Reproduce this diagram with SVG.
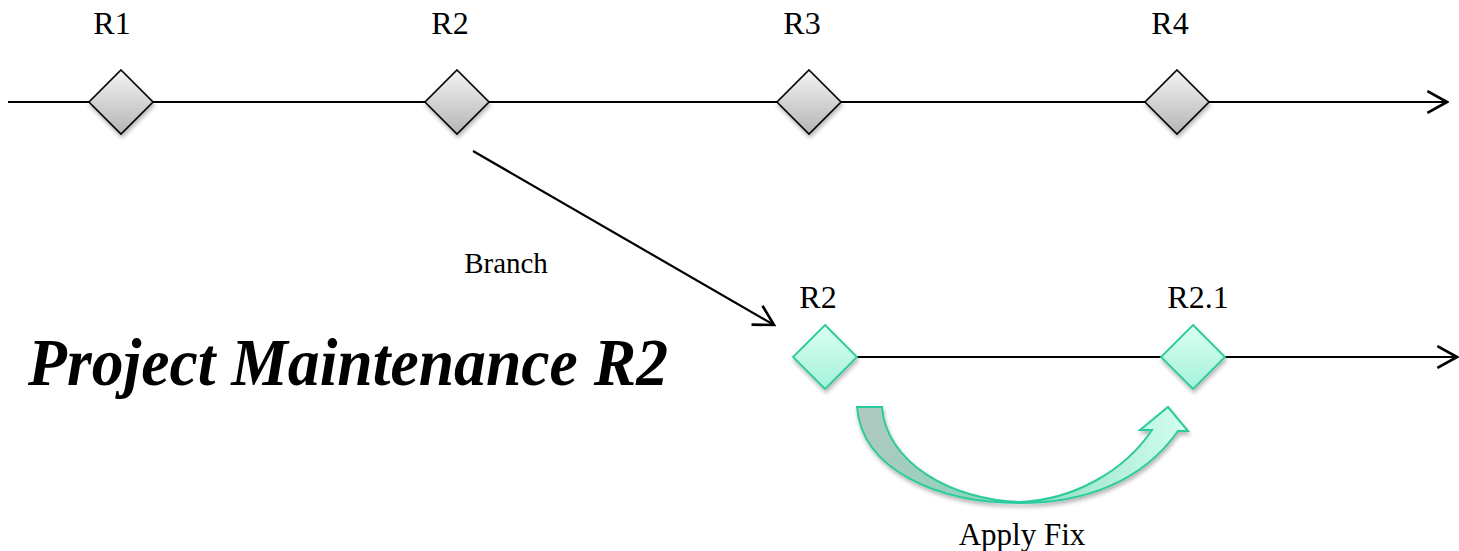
<svg xmlns="http://www.w3.org/2000/svg" width="1459" height="551" viewBox="0 0 1459 551">
<style>
.lbl{font-family:"Liberation Serif","Times New Roman",serif;font-size:32px;fill:#000;text-anchor:middle}
.line{stroke:#000;stroke-width:2.2;fill:none}
.gd{fill:url(#gGray);stroke:#000;stroke-width:1.6;filter:url(#sh)}
.td{fill:url(#gTeal);stroke:#2ccb9c;stroke-width:1.8;filter:url(#sh)}
</style>
<defs>
<linearGradient id="gGray" x1="0" y1="0" x2="0" y2="1">
<stop offset="0" stop-color="#f4f4f4"/><stop offset="1" stop-color="#b4b4b4"/>
</linearGradient>
<linearGradient id="gTeal" x1="0" y1="0" x2="0" y2="1">
<stop offset="0" stop-color="#dcfff2"/><stop offset="1" stop-color="#a4f2da"/>
</linearGradient>
<linearGradient id="gArc" x1="0" y1="0" x2="1" y2="0">
<stop offset="0" stop-color="#b0c8c0"/><stop offset="0.45" stop-color="#86d8bc"/><stop offset="1" stop-color="#d4fff0"/>
</linearGradient>
<filter id="sh" x="-30%" y="-30%" width="160%" height="160%">
<feGaussianBlur in="SourceAlpha" stdDeviation="2"/><feOffset dx="1" dy="3"/>
<feComponentTransfer><feFuncA type="linear" slope="0.3"/></feComponentTransfer>
<feMerge><feMergeNode/><feMergeNode in="SourceGraphic"/></feMerge>
</filter>
<marker id="open" markerWidth="24" markerHeight="24" viewBox="-20 -11 22 22" refX="0" refY="0" orient="auto" markerUnits="userSpaceOnUse">
<path d="M-18,-10 L0,0 L-18,10" fill="none" stroke="#000" stroke-width="2.4"/>
</marker>
</defs>
<g id="connectors">
<line class="line" x1="8" y1="102" x2="1447" y2="102" marker-end="url(#open)"/>
<line class="line" x1="855" y1="357" x2="1457" y2="357" marker-end="url(#open)"/>
<line class="line" x1="473" y1="151" x2="774" y2="325" marker-end="url(#open)"/>
<text class="lbl" x="506" y="273" style="font-size:29px">Branch</text>
</g>
<g id="apply-fix">
<path d="M857,407 L882,407 C886,462 950,500 1020,502 C1072,500 1124,472 1152,430 L1140,430 L1168,407 L1188,431 L1178,431 C1142,482 1084,503 1020,503 C938,503 862,470 857,407 Z" fill="url(#gArc)" stroke="#2ccb9c" stroke-width="2" filter="url(#sh)"/>
<text class="lbl" x="1022" y="545" style="font-size:31px">Apply Fix</text>
</g>
<g id="R1"><path class="gd" d="M121,70 L153,102 L121,134 L89,102 Z"/><text class="lbl" x="112" y="34">R1</text></g>
<g id="R2"><path class="gd" d="M457,70 L489,102 L457,134 L425,102 Z"/><text class="lbl" x="450" y="34">R2</text></g>
<g id="R3"><path class="gd" d="M809,70 L841,102 L809,134 L777,102 Z"/><text class="lbl" x="802" y="34">R3</text></g>
<g id="R4"><path class="gd" d="M1177,70 L1209,102 L1177,134 L1145,102 Z"/><text class="lbl" x="1170" y="34">R4</text></g>
<g id="B-R2"><path class="td" d="M825,325 L857,357 L825,389 L793,357 Z"/><text class="lbl" x="818" y="308">R2</text></g>
<g id="B-R2.1"><path class="td" d="M1193,325 L1225,357 L1193,389 L1161,357 Z"/><text class="lbl" x="1198" y="308">R2.1</text></g>
<g id="title">
<text x="28" y="385" textLength="640" lengthAdjust="spacingAndGlyphs" style="font-family:'Liberation Serif','Times New Roman',serif;font-size:68px;font-weight:bold;font-style:italic;fill:#000">Project Maintenance R2</text>
</g>
</svg>
